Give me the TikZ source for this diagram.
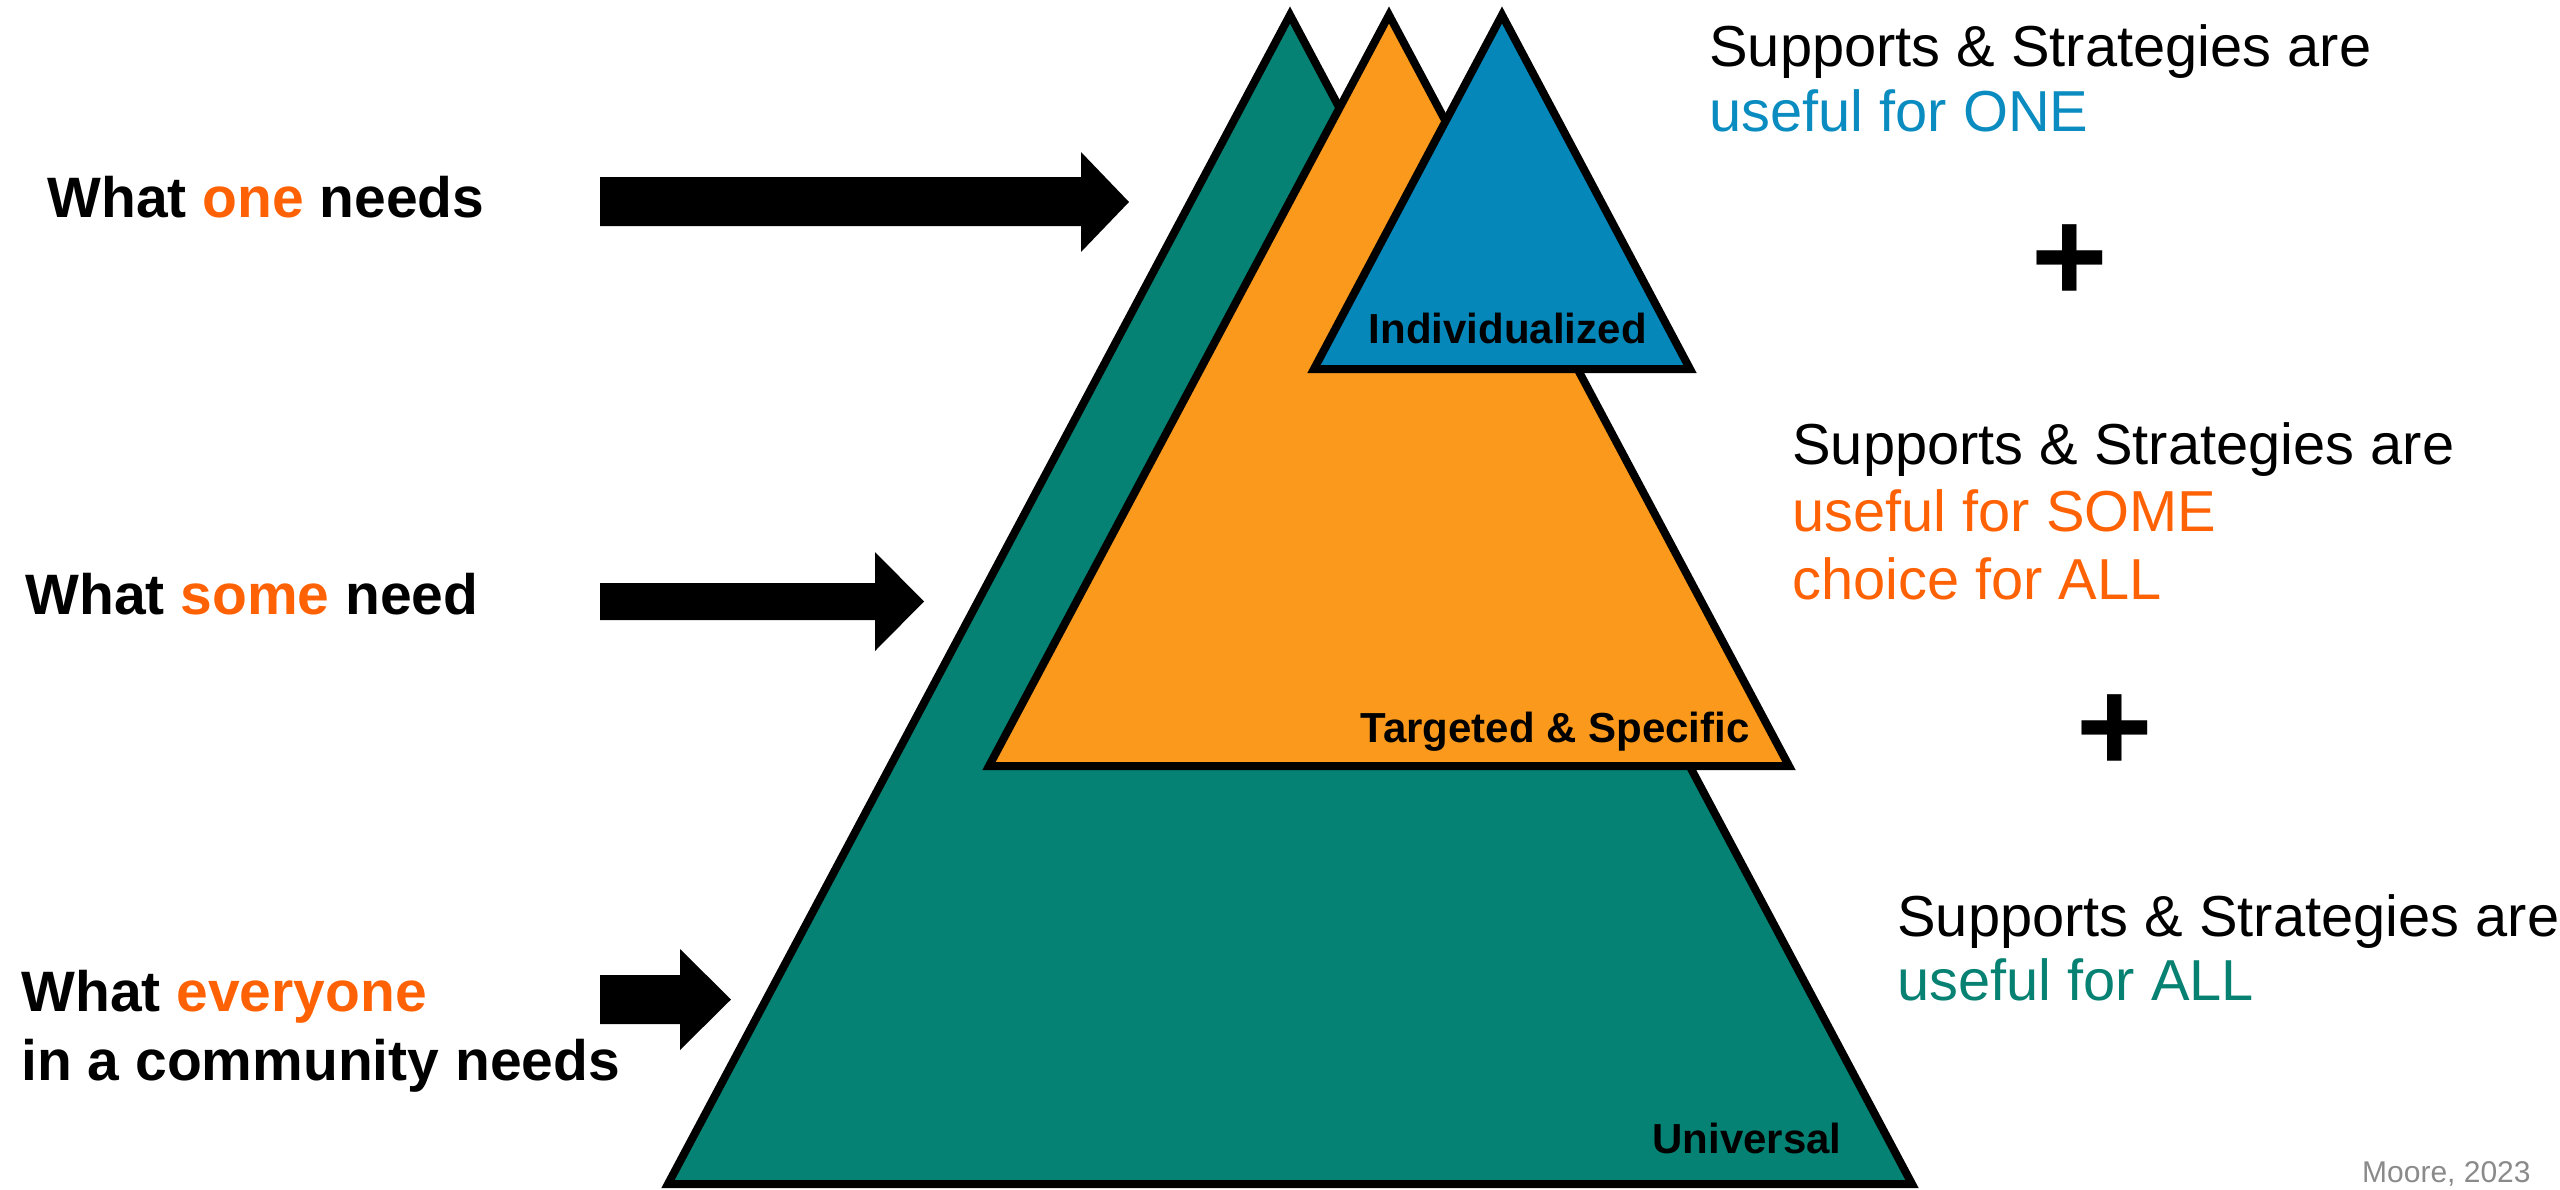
\documentclass[tikz,border=0pt]{standalone}
\usepackage{fontspec}
\setmainfont{Liberation Sans}
\definecolor{tealfill}{HTML}{058274}
\definecolor{orangefill}{HTML}{FA991B}
\definecolor{bluefill}{HTML}{0587BA}
\definecolor{orangetext}{HTML}{FF6205}
\definecolor{bluetext}{HTML}{0A8CC0}
\definecolor{tealtext}{HTML}{068172}
\definecolor{graytext}{HTML}{8A8A8A}
\tikzset{
  tri/.style={draw=black, line width=4pt, line join=miter, miter limit=10},
  needlabel/.style={anchor=base west, inner sep=0pt, font=\fontsize{28.5}{34}\selectfont\bfseries},
  useful/.style={anchor=base west, inner sep=0pt, font=\fontsize{28.9}{34}\selectfont},
  tierlabel/.style={anchor=base east, inner sep=0pt, font=\fontsize{21}{25}\selectfont\bfseries},
  plussign/.style={inner sep=0pt, font=\fontsize{65.5}{70}\selectfont\bfseries},
  bigarrow/.style={fill=black},
}
\begin{document}
\begin{tikzpicture}[x=0.5pt,y=-0.5pt]
\useasboundingbox (0,0) rectangle (2560,1189);
% triangles
\filldraw[tri, fill=tealfill] (1290,15) -- (1912,1184) -- (668,1184) -- cycle;
\filldraw[tri, fill=orangefill] (1389,15) -- (1789,766) -- (989,766) -- cycle;
\filldraw[tri, fill=bluefill] (1502,15) -- (1690,369) -- (1314,369) -- cycle;
% tier labels
\node[tierlabel] (indiv) at (1647,343) {Individualized};
\node[tierlabel] (targ) at (1750,742) {Targeted \& Specific};
\node[tierlabel] (univ) at (1842,1153) {Universal};
% arrows
\fill[bigarrow] (600,177) -- (1081,177) -- (1081,152) -- (1129,202) -- (1081,252) -- (1081,226) -- (600,226) -- cycle;
\fill[bigarrow] (600,583) -- (875,583) -- (875,552) -- (924,601.5) -- (875,651) -- (875,620) -- (600,620) -- cycle;
\fill[bigarrow] (600,975) -- (680,975) -- (680,949) -- (731,999.5) -- (680,1050) -- (680,1024) -- (600,1024) -- cycle;
% left labels
\node[needlabel] (one) at (47,217) {What \textcolor{orangetext}{one} needs};
\node[needlabel] (some) at (25,614) {What \textcolor{orangetext}{some} need};
\node[needlabel] (every1) at (21,1011) {What \textcolor{orangetext}{everyone}};
\node[needlabel] (every2) at (21,1080) {in a community needs};
% right texts
\node[useful] (s1a) at (1709,66) {Supports \& Strategies are};
\node[useful, text=bluetext] (s1b) at (1709,131) {useful for ONE};
\node[useful] (s2a) at (1792,464) {Supports \& Strategies are};
\node[useful, text=orangetext] (s2b) at (1792,531) {useful for SOME};
\node[useful, text=orangetext] (s2c) at (1792,599) {choice for ALL};
\node[useful] (s3a) at (1897,936) {Supports \& Strategies are};
\node[useful, text=tealtext] (s3b) at (1897,1000) {useful for ALL};
% plus signs
\node[plussign] (p1) at (2070,263) {+};
\node[plussign] (p2) at (2115,733) {+};
% credit
\node[anchor=base east, inner sep=0pt, text=graytext, font=\fontsize{15}{18}\selectfont] (credit) at (2531,1182) {Moore, 2023};
\end{tikzpicture}
\end{document}
